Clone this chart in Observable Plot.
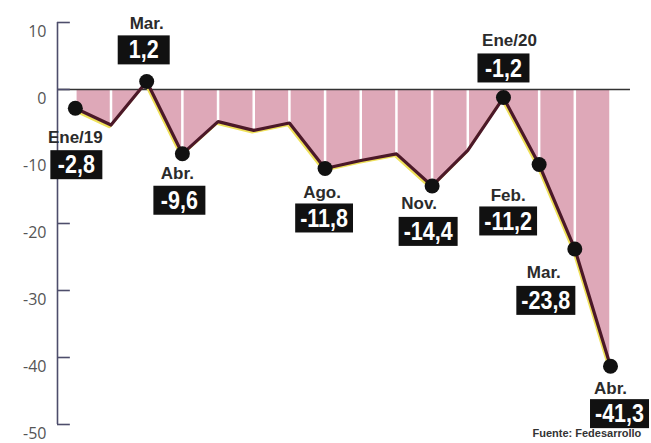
<!DOCTYPE html>
<html><head><meta charset="utf-8">
<script src="https://cdn.jsdelivr.net/npm/d3@7"></script>
<script src="https://cdn.jsdelivr.net/npm/@observablehq/plot@0.6"></script>
<style>body{margin:0;background:#fff;overflow:hidden}</style>
</head><body><div id="chart"></div>
<script>
// ---- data ----
const months = ["Ene/19","Feb","Mar.","Abr.","May","Jun","Jul","Ago.","Sep","Oct","Nov.","Dic","Ene/20","Feb.","Mar.","Abr."];
const values = [-2.8,-5.3,1.2,-9.6,-4.8,-6.1,-5.0,-11.8,-10.6,-9.6,-14.4,-9.1,-1.2,-11.2,-23.8,-41.3];
const labelled = [0,2,3,7,10,12,13,14,15];
const yTicks = [10,0,-10,-20,-30,-40,-50];
const source = "Fuente: Fedesarrollo";

// ---- layout (label offsets in px: month label m, value box b) ----
const labelLayout = {
  0:{mx:0,my:29,bx:1,by:57},
  2:{mx:0,my:-58,bx:-3,by:-31},
  3:{mx:-5,my:20,bx:-3,by:47},
  7:{mx:-3,my:24,bx:-1,by:50},
  10:{mx:-13,my:18,bx:-4,by:46},
  12:{mx:6,my:-57,bx:0,by:-29},
  13:{mx:-31,my:31,bx:-31,by:57},
  14:{mx:-31,my:24,bx:-29,by:52},
  15:{mx:0,my:22,bx:9,by:48}
};

const data = values.map((v,i)=>({i, v, m: months[i]}));
const fmt = v => String(v).replace(".", ",");
const boxFill = "#fefefe";
const squeeze = 0.86;

const labelMarks = labelled.flatMap(i => {
  const d = data[i], L = labelLayout[i];
  return [
    Plot.text([d], {x:"i", y:"v", text:"m", dx:L.mx, dy:L.my, fontSize:17, fontWeight:"bold",
      fontFamily:"'Liberation Sans',Arial,sans-serif", fill:"#2b2b2b"}),
    Plot.text([d], {x:"i", y:"v", text:d=>fmt(d.v), dx:L.bx, dy:L.by, fontSize:25, fontWeight:"bold",
      fontFamily:"'Liberation Sans',Arial,sans-serif", fill:boxFill})
  ];
});

const axisColor = "#4d4d6b";
const svg = Plot.plot({
  width: 651, height: 443,
  marginLeft: 57, marginRight: 41, marginTop: 22, marginBottom: 19,
  x: {domain: [-0.5, 15], axis: null},
  y: {domain: [-50, 10], axis: null},
  style: {fontFamily: "'Open Sans',sans-serif", background: "#fff"},
  marks: [
    Plot.areaY(data, {x:"i", y1:0, y2:"v", fill:"#dea8b8"}),
    Plot.ruleX(data, {x:"i", y1:0, y2:"v", stroke:"#fff", strokeWidth:2.5}),
    Plot.ruleY([0], {x1:-0.5, x2:15.56, stroke:"#333", strokeWidth:1.3}),
    Plot.ruleX([-0.5], {y1:10, y2:-50, stroke:axisColor, strokeWidth:1.6}),
    Plot.ruleY(yTicks, {y:d=>d, x1:-0.5, x2:-0.14, stroke:axisColor, strokeWidth:1.6}),
    Plot.axisY({ticks: yTicks, tickSize: 0, tickPadding: 11, tickFormat: d=>String(d), dy: 9, fontSize: 16, fill:"#555", label: null}),
    Plot.line(data, {x:"i", y:"v", stroke:"#efe15a", strokeWidth:2.5, dx:-1.5, dy:2}),
    Plot.line(data, {x:"i", y:"v", stroke:"#4b1828", strokeWidth:3.2}),
    Plot.dot(labelled.map(i=>data[i]), {x:"i", y:"v", r:7.5, fill:"#111"}),
    ...labelMarks,
    Plot.text([source], {frameAnchor:"bottom-right", text:d=>d, textAnchor:"start", dx:-78, dy:12,
      fontSize:11, fontWeight:"bold", fill:"#333", fontFamily:"'Liberation Sans',Arial,sans-serif"})
  ]
});
document.getElementById("chart").appendChild(svg);

// condensed white value labels on black boxes, sized from the rendered text
svg.querySelectorAll("text").forEach(t => {
  const g = t.closest("g");
  const f = (g && g.getAttribute("fill")) || t.getAttribute("fill");
  if (f !== boxFill) return;
  const tr = (t.getAttribute("transform") || "") + ` scale(${squeeze},1)`;
  t.setAttribute("transform", tr);
  const b = t.getBBox();
  const r = document.createElementNS("http://www.w3.org/2000/svg","rect");
  const h = 29;
  const w = Math.max(b.width + 10 / squeeze, 52 / squeeze);
  r.setAttribute("x", b.x + b.width / 2 - w / 2);
  r.setAttribute("width", w);
  r.setAttribute("y", b.y + b.height/2 - h/2);
  r.setAttribute("height", h);
  r.setAttribute("fill", "#111");
  r.setAttribute("transform", tr);
  t.parentNode.insertBefore(r, t);
});
</script>
</body></html>
